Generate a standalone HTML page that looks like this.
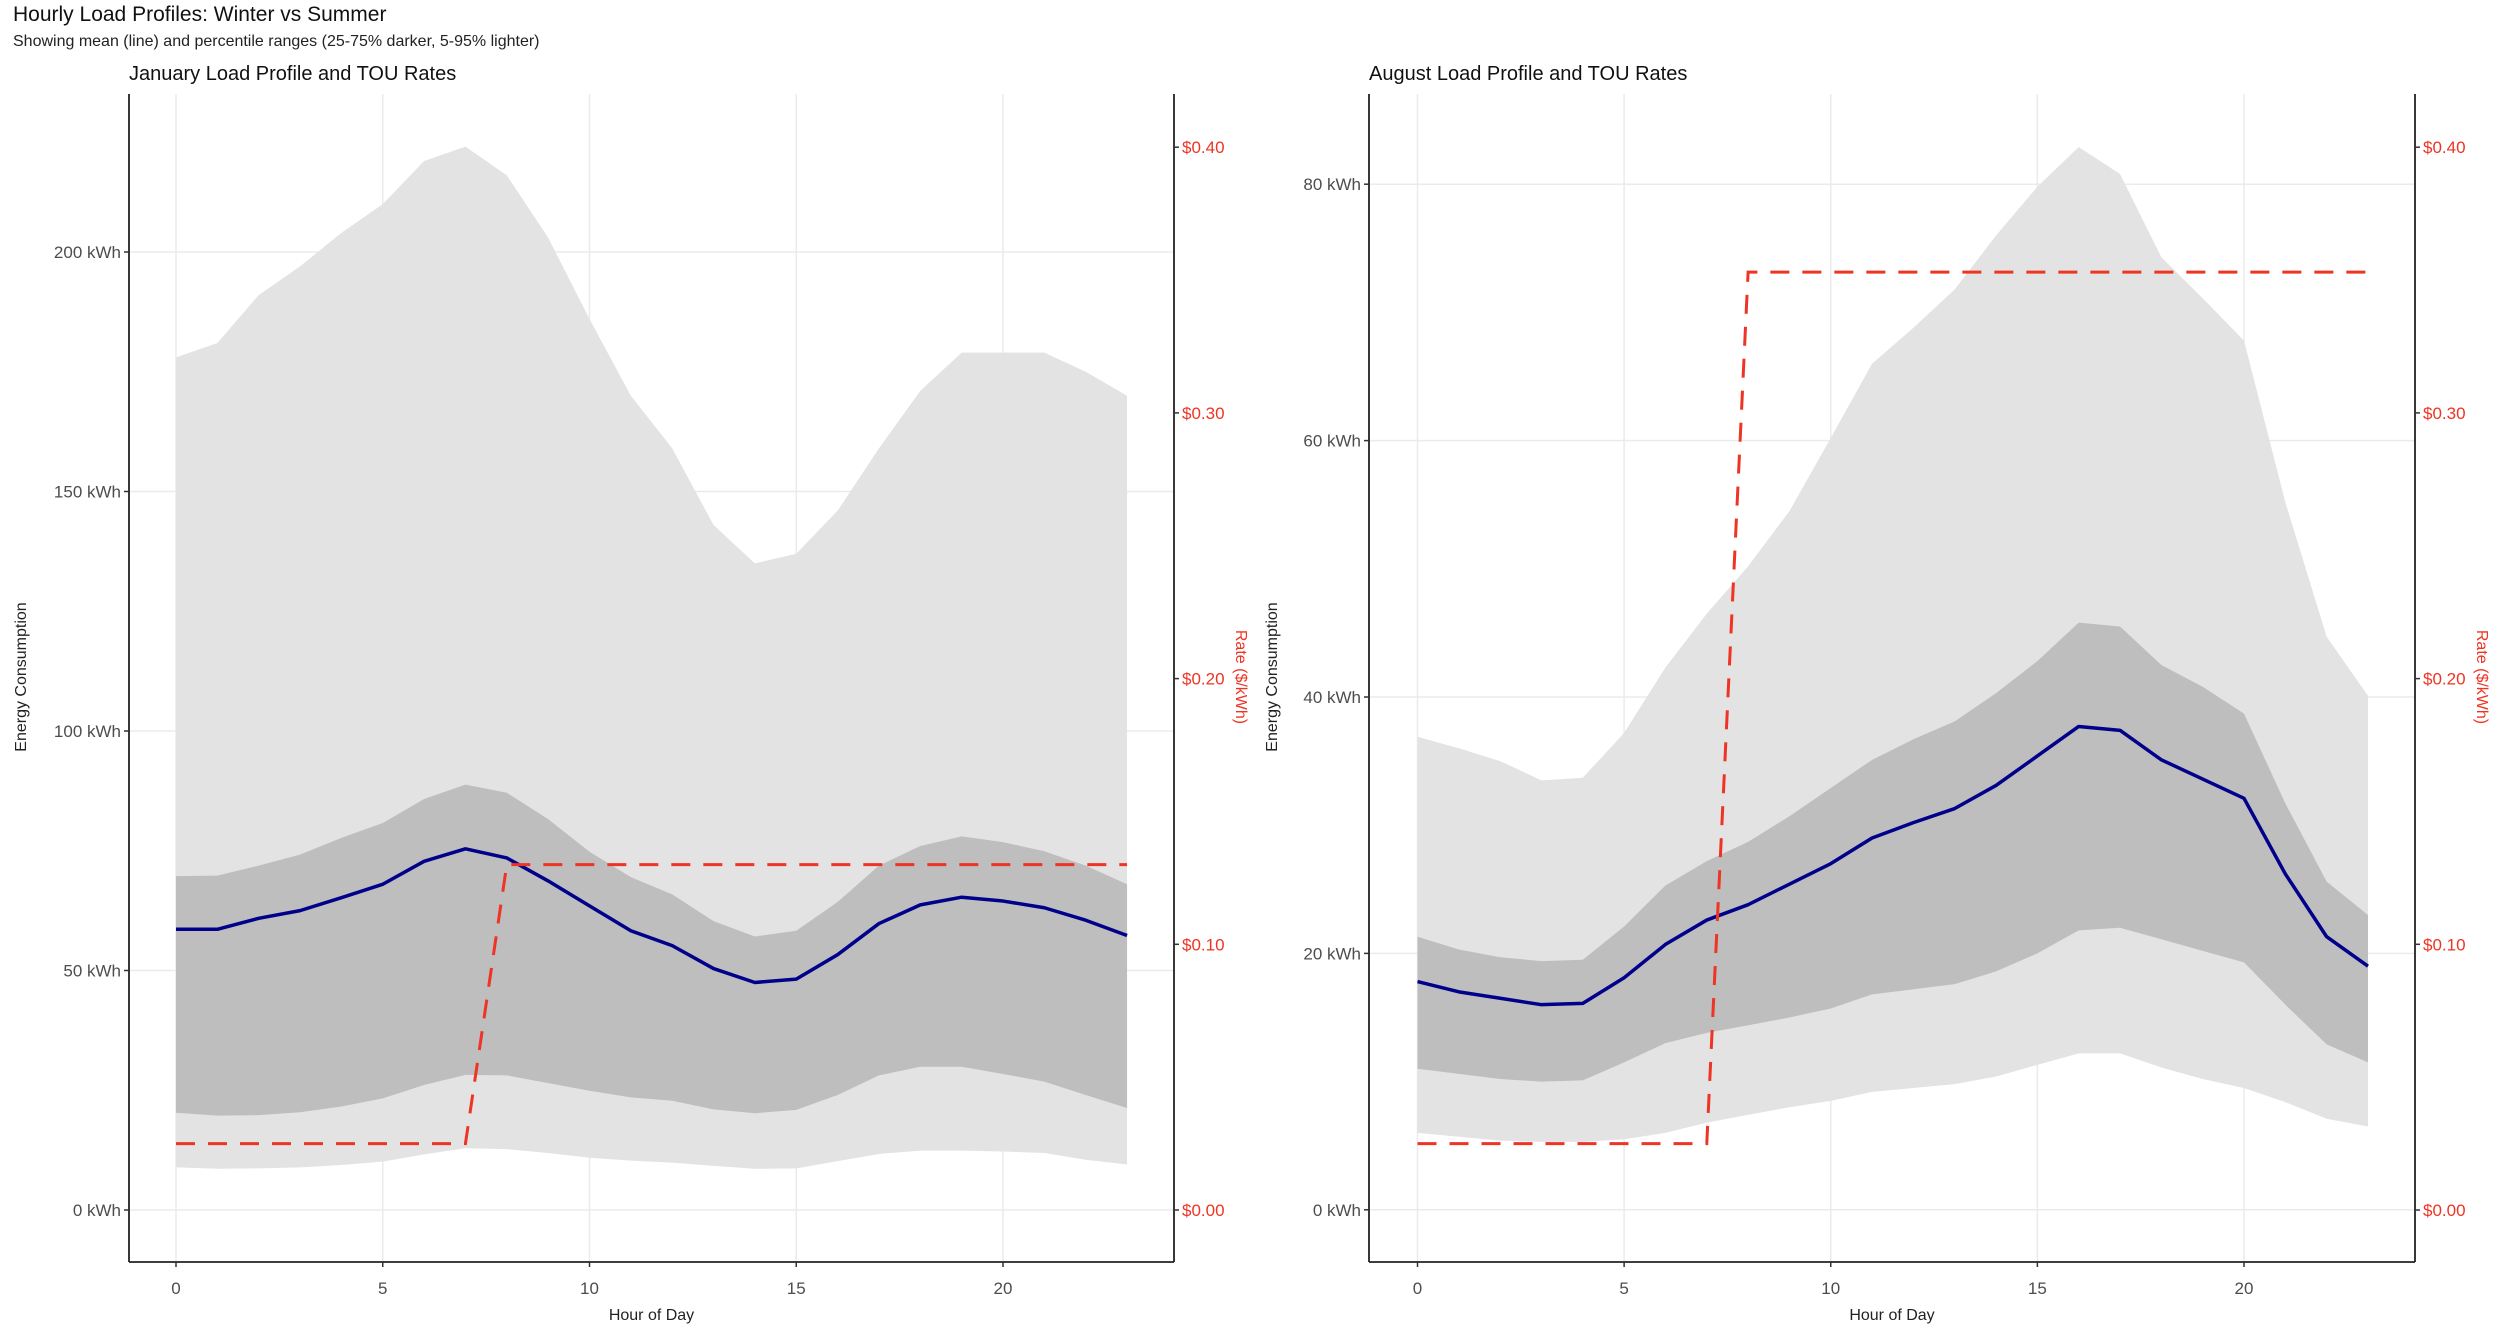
<!DOCTYPE html>
<html><head><meta charset="utf-8"><style>
html,body{margin:0;padding:0;background:#fff;}
svg{display:block;font-family:"Liberation Sans",sans-serif;}
</style></head><body>
<svg id="chart" width="2500" height="1332" viewBox="0 0 2500 1332" xmlns="http://www.w3.org/2000/svg">
<text x="13" y="21" font-size="21" fill="#111">Hourly Load Profiles: Winter vs Summer</text>
<text x="13" y="46" font-size="16" fill="#222">Showing mean (line) and percentile ranges (25-75% darker, 5-95% lighter)</text>
</svg>
<script>
const hours = [0,1,2,3,4,5,6,7,8,9,10,11,12,13,14,15,16,17,18,19,20,21,22,23];
const janP95 = [178,181,191,197,204,210,219,222,216,203,186,170,159,143,135,137,146,159,171,179,179,179,175,170];
const janP75 = [69.7,69.8,71.9,74.2,77.7,80.8,85.8,88.8,87.1,81.6,74.8,69.5,65.9,60.3,57.1,58.3,64.3,71.9,76,78,76.8,74.9,71.9,68];
const janMean = [58.6,58.6,60.9,62.5,65.2,68,72.8,75.4,73.5,68.7,63.5,58.3,55.2,50.4,47.5,48.2,53.3,59.8,63.7,65.3,64.5,63.1,60.5,57.3];
const janP25 = [20.3,19.7,19.8,20.4,21.6,23.3,26.1,28.2,28.1,26.5,24.9,23.5,22.8,21,20.2,20.9,24,28.1,29.9,29.9,28.4,26.8,24,21.3];
const janP5 = [8.9,8.6,8.7,8.9,9.4,10.1,11.6,12.9,12.7,11.9,10.9,10.3,9.9,9.2,8.6,8.7,10.2,11.7,12.4,12.4,12.2,11.9,10.5,9.5];
const janRate = [0.025,0.025,0.025,0.025,0.025,0.025,0.025,0.025,0.13,0.13,0.13,0.13,0.13,0.13,0.13,0.13,0.13,0.13,0.13,0.13,0.13,0.13,0.13,0.13];
const augP95 = [36.9,36,35,33.5,33.7,37.2,42.3,46.5,50.2,54.5,60.2,66,68.8,71.8,76,79.8,82.9,80.8,74.3,71.1,67.8,55.2,44.7,40.1];
const augP75 = [21.3,20.3,19.7,19.4,19.5,22.1,25.3,27.2,28.7,30.7,32.9,35.1,36.7,38.1,40.3,42.8,45.8,45.5,42.5,40.8,38.7,31.7,25.6,23];
const augMean = [17.8,17,16.5,16,16.1,18.1,20.7,22.6,23.8,25.4,27,29,30.2,31.3,33.1,35.4,37.7,37.4,35.1,33.6,32.1,26.2,21.3,19];
const augP25 = [11,10.6,10.2,10,10.1,11.5,13,13.8,14.4,15,15.7,16.8,17.2,17.6,18.6,20,21.8,22,21.1,20.2,19.3,16,12.9,11.5];
const augP5 = [6,5.7,5.4,5.3,5.3,5.5,6,6.8,7.4,8,8.5,9.2,9.5,9.8,10.4,11.3,12.2,12.2,11.1,10.2,9.5,8.4,7.1,6.5];
const augRate = [0.025,0.025,0.025,0.025,0.025,0.025,0.025,0.025,0.353,0.353,0.353,0.353,0.353,0.353,0.353,0.353,0.353,0.353,0.353,0.353,0.353,0.353,0.353,0.353];
const xTicks = [0,5,10,15,20];
const janYTicks = [0,50,100,150,200];
const augYTicks = [0,20,40,60,80];
const rateTicks = [0,0.1,0.2,0.3,0.4];

const NS = "http://www.w3.org/2000/svg";
const svg = document.getElementById('chart');
function mk(tag, attrs, parent){
  const e = document.createElementNS(NS, tag);
  for (const k in attrs) e.setAttribute(k, attrs[k]);
  (parent||svg).appendChild(e);
  return e;
}
const RED = "#ee3424";

function panel(cfg){
  const g = mk('g', {});
  
  
  const L = cfg.left, R = cfg.right, T = 94, B = 1262;
  const xs = h => cfg.x0 + (cfg.x20 - cfg.x0) * h / 20;
  const ys = v => cfg.y0 - v * cfg.kpx;
  const rs = r => 1210 - r * 2657;
  xTicks.forEach(t => {
    const l = mk('line', {x1:xs(t), x2:xs(t), y1:T, y2:B, stroke:'#ebebeb', 'stroke-width':1.5}, g);
    
    
  });
  cfg.yTicks.forEach(t => {
    const l = mk('line', {x1:L, x2:R, y1:ys(t), y2:ys(t), stroke:'#ebebeb', 'stroke-width':1.5}, g);
    
    
  });
  function band(lo, hi, color, name){
    let d = '';
    hours.forEach((h,i) => { d += (i ? 'L' : 'M') + xs(h) + ',' + ys(hi[i]); });
    for (let i = hours.length-1; i >= 0; i--) d += 'L' + xs(hours[i]) + ',' + ys(lo[i]);
    const p = mk('path', {d: d + 'Z', fill: color}, g);
    
    
  }
  band(cfg.p5, cfg.p95, '#e3e3e3', 'band-5-95');
  band(cfg.p25, cfg.p75, '#bebebe', 'band-25-75');
  const mline = mk('polyline', {points: hours.map((h,i)=>xs(h)+','+ys(cfg.mean[i])).join(' '), fill:'none', stroke:'#00008b', 'stroke-width':3.5, 'stroke-linejoin':'round'}, g);
  
  
  const rline = mk('polyline', {points: hours.map((h,i)=>xs(h)+','+rs(cfg.rate[i])).join(' '), fill:'none', stroke:RED, 'stroke-width':3, 'stroke-dasharray':'19 13'}, g);
  
  
  const al = mk('line', {x1:L, x2:L, y1:T, y2:B, stroke:'#222', 'stroke-width':1.8}, g);
  
  
  const ab = mk('line', {x1:L, x2:R, y1:B, y2:B, stroke:'#222', 'stroke-width':1.8}, g);
  
  
  const ar = mk('line', {x1:R, x2:R, y1:T, y2:B, stroke:'#222', 'stroke-width':1.8}, g);
  
  
  xTicks.forEach(t => {
    mk('line', {x1:xs(t), x2:xs(t), y1:B, y2:B+5, stroke:'#333', 'stroke-width':1.5}, g);
    const tx = mk('text', {x:xs(t), y:B+32, 'font-size':17, fill:'#4d4d4d', 'text-anchor':'middle'}, g);
    tx.textContent = t;
    
    
  });
  cfg.yTicks.forEach(t => {
    mk('line', {x1:L-5, x2:L, y1:ys(t), y2:ys(t), stroke:'#333', 'stroke-width':1.5}, g);
    const tx = mk('text', {x:L-8, y:ys(t)+6, 'font-size':17, fill:'#4d4d4d', 'text-anchor':'end'}, g);
    tx.textContent = t + ' kWh';
    
    
  });
  rateTicks.forEach(t => {
    mk('line', {x1:R, x2:R+5, y1:rs(t), y2:rs(t), stroke:'#333', 'stroke-width':1.5}, g);
    const tx = mk('text', {x:R+8, y:rs(t)+6, 'font-size':17, fill:RED}, g);
    tx.textContent = '$' + t.toFixed(2);
    
    
  });
  const pt = mk('text', {x:L, y:80, 'font-size':20, fill:'#111'}, g);
  pt.textContent = cfg.title;
  
  
  const xt = mk('text', {x:(L+R)/2, y:1320, 'font-size':16, fill:'#222', 'text-anchor':'middle'}, g);
  xt.textContent = 'Hour of Day';
  
  
  const yt = mk('text', {x:0, y:0, 'font-size':16, fill:'#222', 'text-anchor':'middle', transform:'translate('+(cfg.ytX)+',677) rotate(-90)'}, g);
  yt.textContent = 'Energy Consumption';
  
  
  const rt = mk('text', {x:0, y:0, 'font-size':16, fill:RED, 'text-anchor':'middle', transform:'translate('+(R+62)+',677) rotate(90)'}, g);
  rt.textContent = 'Rate ($/kWh)';
  
  
}

panel({key:'january', title:'January Load Profile and TOU Rates', left:129, right:1174, x0:176, x20:1003, y0:1210, kpx:4.79, yTicks:janYTicks, ytX:26,
  p95:janP95, p75:janP75, mean:janMean, p25:janP25, p5:janP5, rate:janRate});
panel({key:'august', title:'August Load Profile and TOU Rates', left:1369, right:2415, x0:1417.5, x20:2244, y0:1209.8, kpx:12.82, yTicks:augYTicks, ytX:1277,
  p95:augP95, p75:augP75, mean:augMean, p25:augP25, p5:augP5, rate:augRate});
</script>
</body></html>
